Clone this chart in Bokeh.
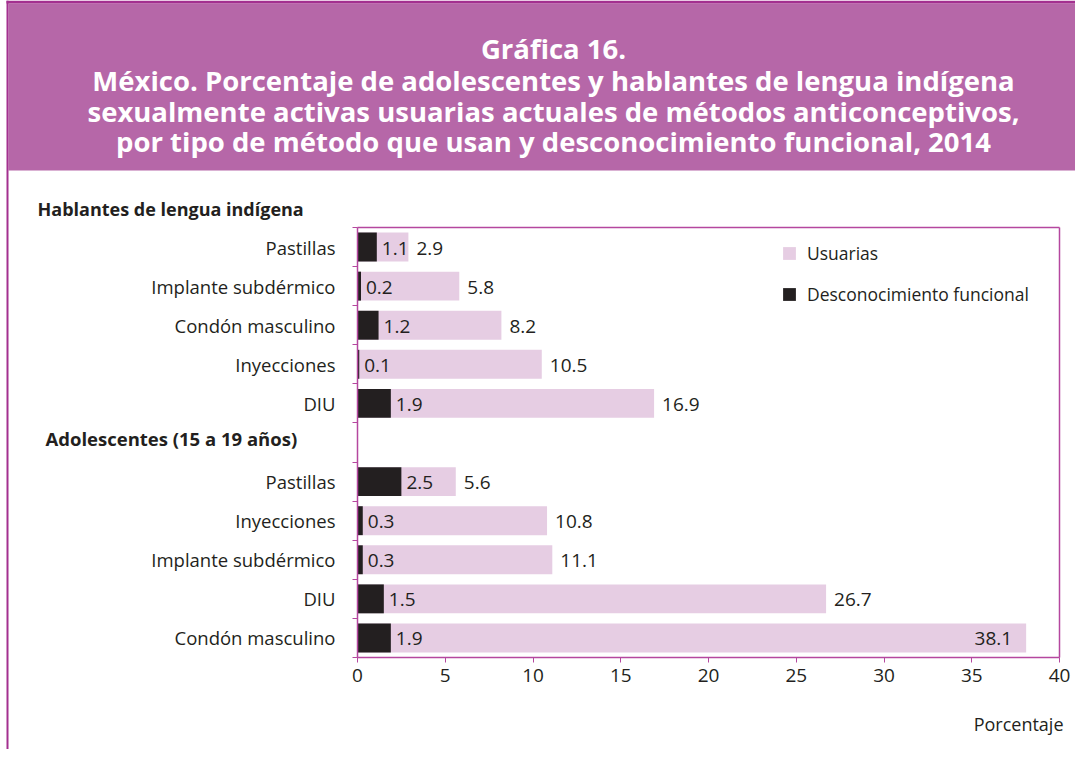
from bokeh.plotting import figure
from bokeh.models import (Range1d, FixedTicker, Label, BoxAnnotation, Legend,
                          LegendItem, ColumnDataSource, LinearAxis)
from bokeh.embed import file_html
from bokeh.resources import INLINE
from bokeh.core.properties import value

# ---------------- data ----------------
title_lines = [
    "Gráfica 16.",
    "México. Porcentaje de adolescentes y hablantes de lengua indígena",
    "sexualmente activas usuarias actuales de métodos anticonceptivos,",
    "por tipo de método que usan y desconocimiento funcional, 2014",
]
group_labels = ["Hablantes de lengua indígena", "Adolescentes (15 a 19 años)"]

metodos_hli = ["Pastillas", "Implante subdérmico", "Condón masculino", "Inyecciones", "DIU"]
usuarias_hli = [2.9, 5.8, 8.2, 10.5, 16.9]
descon_hli = [1.1, 0.2, 1.2, 0.1, 1.9]

metodos_adol = ["Pastillas", "Inyecciones", "Implante subdérmico", "DIU", "Condón masculino"]
usuarias_adol = [5.6, 10.8, 11.1, 26.7, 38.1]
descon_adol = [2.5, 0.3, 0.3, 1.5, 1.9]

series_names = ["Usuarias", "Desconocimiento funcional"]
x_ticks = [0, 5, 10, 15, 20, 25, 30, 35, 40]
x_axis_label = "Porcentaje"

# ---------------- style / layout ----------------
HEADER = "#B667A8"
BORDER = "#A3308F"
AXIS = "#B5479F"
PINK = "#E6CDE3"
BLACK = "#231F20"
DARK = "#231F20"
FONT = "Open Sans"

W, H = 1075, 749
AX_L, AX_R, AX_T, AX_B = 357, 1059, 227, 657   # chart box in canvas px


def sy(cy):  # canvas y (top-down) -> screen units (bottom-up)
    return H - cy


# slot positions: group 1 at 0..4, blank slot 5, group 2 at 6..10
n1 = len(metodos_hli)
pos = list(range(n1)) + [n1 + 1 + i for i in range(len(metodos_adol))]
cats = metodos_hli + metodos_adol
usu = usuarias_hli + usuarias_adol
des = descon_hli + descon_adol
n_slots = len(pos) + 1

src = ColumnDataSource(dict(y=pos, cat=cats, usu=usu, des=des,
                            des_txt=[f"{v:.1f}" for v in des]))
xmin, xmax = x_ticks[0], x_ticks[-1]
inside = [i for i, v in enumerate(usu) if v > 0.9 * xmax]
outside = [i for i, v in enumerate(usu) if v <= 0.9 * xmax]
src_out = ColumnDataSource(dict(y=[pos[i] for i in outside], x=[usu[i] for i in outside],
                                t=[f"{usu[i]:.1f}" for i in outside]))
src_in = ColumnDataSource(dict(y=[pos[i] for i in inside], x=[usu[i] for i in inside],
                               t=[f"{usu[i]:.1f}" for i in inside]))

# ranges chosen so that the frame fills the canvas and the chart box sits at AX_*
xpx = (AX_R - AX_L) / (xmax - xmin)
ypx = (AX_B - AX_T) / n_slots
y_top, y_bot = -0.5, n_slots - 0.5
x_range = Range1d(xmin - AX_L / xpx, xmax + (W - AX_R) / xpx)
y_range = Range1d(y_bot + (H - AX_B) / ypx, y_top - AX_T / ypx)

p = figure(width=W, height=H, output_backend="svg", toolbar_location=None,
           x_range=x_range, y_range=y_range,
           min_border=0, min_border_left=0, min_border_right=0,
           min_border_top=0, min_border_bottom=0)
p.xgrid.visible = False
p.ygrid.visible = False
p.outline_line_color = None
p.background_fill_color = "white"
p.border_fill_color = "white"

# header band and page borders
p.add_layout(BoxAnnotation(left=8, right=W, top=sy(3), bottom=sy(170),
                           left_units="screen", right_units="screen",
                           top_units="screen", bottom_units="screen",
                           fill_color=HEADER, fill_alpha=1, line_color=None))
p.add_layout(BoxAnnotation(left=6, right=W, top=sy(0), bottom=sy(3),
                           left_units="screen", right_units="screen",
                           top_units="screen", bottom_units="screen",
                           fill_color=BORDER, fill_alpha=1, line_color=None))
p.add_layout(BoxAnnotation(left=6, right=8, top=sy(0), bottom=sy(H),
                           left_units="screen", right_units="screen",
                           top_units="screen", bottom_units="screen",
                           fill_color=BORDER, fill_alpha=1, line_color=None))

# bars
r_usu = p.hbar(y="y", left=0, right="usu", height=0.74, source=src,
               fill_color=PINK, line_color=None)
r_des = p.hbar(y="y", left=0, right="des", height=0.74, source=src,
               fill_color=BLACK, line_color=None)

# value labels
txt_kw = dict(text_baseline="middle", text_font=value(FONT), text_font_size="19px",
              text_color=DARK)
p.text(x="des", y="y", text="des_txt", source=src, x_offset=5, y_offset=1,
       text_align="left", **txt_kw)
p.text(x="x", y="y", text="t", source=src_out, x_offset=8, y_offset=1,
       text_align="left", **txt_kw)
p.text(x="x", y="y", text="t", source=src_in, x_offset=-14, y_offset=1,
       text_align="right", **txt_kw)

# x axis (drawn at the bottom of the chart box)
xa = p.xaxis[0]
xa.fixed_location = y_bot
xa.bounds = (xmin, xmax)
xa.ticker = FixedTicker(ticks=x_ticks)
xa.axis_line_color = AXIS
xa.axis_line_width = 1.5
xa.major_tick_line_color = AXIS
xa.major_tick_out = 5
xa.major_tick_in = 0
xa.minor_tick_line_color = None
xa.major_label_text_font = FONT
xa.major_label_text_font_size = "19px"
xa.major_label_text_color = DARK
xa.major_label_standoff = 6

# y axis: labels at slot centres, tick marks at slot boundaries
ya = p.yaxis[0]
ya.fixed_location = xmin
ya.bounds = (y_top, y_bot)
ya.ticker = FixedTicker(ticks=pos, minor_ticks=[k - 0.5 for k in range(n_slots + 1)])
ya.major_label_overrides = {y: c for y, c in zip(pos, cats)}
ya.major_tick_out = 0
ya.major_tick_in = 0
ya.major_tick_line_color = None
ya.minor_tick_line_color = AXIS
ya.minor_tick_out = 5
ya.minor_tick_in = 0
ya.axis_line_color = AXIS
ya.axis_line_width = 1.5
ya.major_label_text_font = FONT
ya.major_label_text_font_size = "18.5px"
ya.major_label_text_color = DARK
ya.major_label_standoff = 17

# top and right edges of the chart box
top_ax = LinearAxis(fixed_location=y_top, bounds=(xmin, xmax), ticker=FixedTicker(ticks=[]),
                    axis_line_color=AXIS, axis_line_width=1.5, major_tick_line_color=None,
                    minor_tick_line_color=None, major_label_text_font_size="0px")
right_ax = LinearAxis(fixed_location=xmax, bounds=(y_top, y_bot), ticker=FixedTicker(ticks=[]),
                      axis_line_color=AXIS, axis_line_width=1.5, major_tick_line_color=None,
                      minor_tick_line_color=None, major_label_text_font_size="0px")
p.add_layout(top_ax, "above")
p.add_layout(right_ax, "right")

# legend
legend = Legend(items=[LegendItem(label=series_names[0], renderers=[r_usu]),
                       LegendItem(label=series_names[1], renderers=[r_des])],
                location=(781, sy(306)), orientation="vertical", padding=0, margin=0,
                spacing=17, glyph_width=16, glyph_height=16, label_height=16,
                label_standoff=10, label_text_font=FONT, label_text_font_size="17.5px",
                label_text_color=DARK, border_line_color=None, background_fill_alpha=0)
p.add_layout(legend)

# title lines
baselines = [48, 80, 111, 141]
for line, b in zip(title_lines, baselines):
    p.add_layout(Label(x=553, y=sy(b), x_units="screen", y_units="screen",
                       text=line, text_align="center", text_baseline="alphabetic",
                       text_font=FONT, text_font_style="bold", text_font_size="27.5px",
                       text_color="white"))

for txt, lx, ly, fs in zip(group_labels, [37, 45], [208, 438], ["18px", "18.5px"]):
    p.add_layout(Label(x=lx, y=sy(ly), x_units="screen", y_units="screen",
                       text=txt, text_align="left", text_baseline="middle",
                       text_font=FONT, text_font_style="bold", text_font_size=fs,
                       text_color=DARK))

p.add_layout(Label(x=1063, y=sy(723), x_units="screen", y_units="screen",
                   text=x_axis_label, text_align="right", text_baseline="middle",
                   text_font=FONT, text_font_size="18px", text_color=DARK))

open("out.html", "w").write(file_html(p, INLINE))
